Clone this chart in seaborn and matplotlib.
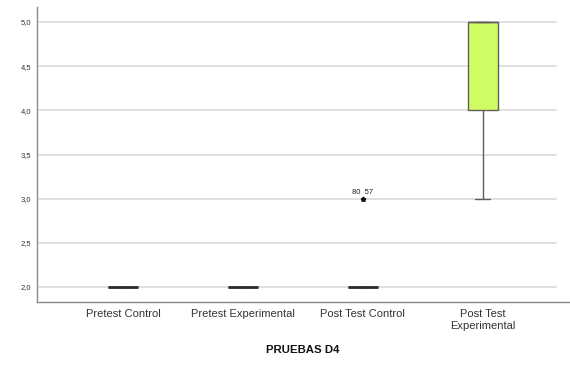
import numpy as np
import pandas as pd
import matplotlib
matplotlib.use("Agg")
import matplotlib.pyplot as plt
import seaborn as sns

# Groups and score counts (score -> number of cases)
groups = ["Pretest Control", "Pretest Experimental", "Post Test Control", "Post Test\nExperimental"]
scores = [2, 3, 4, 5]
pretest_control_counts = [20, 0, 0, 0]
pretest_experimental_counts = [20, 0, 0, 0]
posttest_control_counts = [18, 2, 0, 0]
posttest_experimental_counts = [0, 1, 6, 13]
outlier_case_ids = ["80", "57"]
y_ticks = [2.0, 2.5, 3.0, 3.5, 4.0, 4.5, 5.0]

rows = []
for g, counts in zip(groups, [pretest_control_counts, pretest_experimental_counts,
                              posttest_control_counts, posttest_experimental_counts]):
    for s, c in zip(scores, counts):
        rows += [(g, s)] * c
df = pd.DataFrame(rows, columns=["grupo", "D4"])

sns.set_style("white")
plt.rcParams["font.family"] = ["Liberation Sans", "DejaVu Sans"]

fig = plt.figure(figsize=(5.70, 3.67), dpi=100)
ax = fig.add_axes([0.065, 0.177, 0.933, 0.804])

# horizontal reference lines
for t in y_ticks:
    ax.axhline(t, xmin=0.004, xmax=0.976, color="#dcdcdc", lw=1.3, zorder=0)

edge = "#5e5e5e"
sns.boxplot(data=df, x="grupo", y="D4", order=groups, ax=ax,
            color="#cffc62", width=0.25, linecolor=edge, linewidth=1.0,
            whis=1.5, saturation=1,
            medianprops=dict(color="#2e2e2e", linewidth=2.0),
            flierprops=dict(marker="*", markersize=3.5, markerfacecolor="#111111",
                            markeredgecolor="#111111"))

# median that sits on the upper hinge keeps the box edge style
for ln in ax.lines:
    y = np.asarray(ln.get_ydata(), dtype=float)
    x = np.asarray(ln.get_xdata(), dtype=float)
    if y.size == 2 and np.allclose(y, 5.0) and np.all(x > 2.5):
        ln.set_color(edge)
        ln.set_linewidth(1.0)

# case labels for the outlying value
ax.annotate("  ".join(outlier_case_ids), xy=(2, 3.0), xytext=(0, 2),
            textcoords="offset points", ha="center", va="bottom",
            fontsize=5.5, color="#222222")

ax.set_xlim(-0.72, 3.72)
ax.set_ylim(1.83, 5.17)
ax.set_yticks(y_ticks)
ax.set_yticklabels([f"{t:.1f}".replace(".", ",") for t in y_ticks], fontsize=5.5, color="#333333")
ax.set_xticks(range(len(groups)))
ax.set_xticklabels(groups, fontsize=8, color="#333333", linespacing=1.3)
ax.tick_params(axis="x", length=0, pad=5)
ax.tick_params(axis="y", length=0, pad=4)
ax.set_ylabel("")
ax.set_xlabel("PRUEBAS D4", fontsize=8.2, fontweight="bold", color="#111111", labelpad=10)

for side in ["top", "right"]:
    ax.spines[side].set_visible(False)
for side in ["left", "bottom"]:
    ax.spines[side].set_color("#8a8a8a")
    ax.spines[side].set_linewidth(1.0)

fig.savefig("out.png", dpi=100)
